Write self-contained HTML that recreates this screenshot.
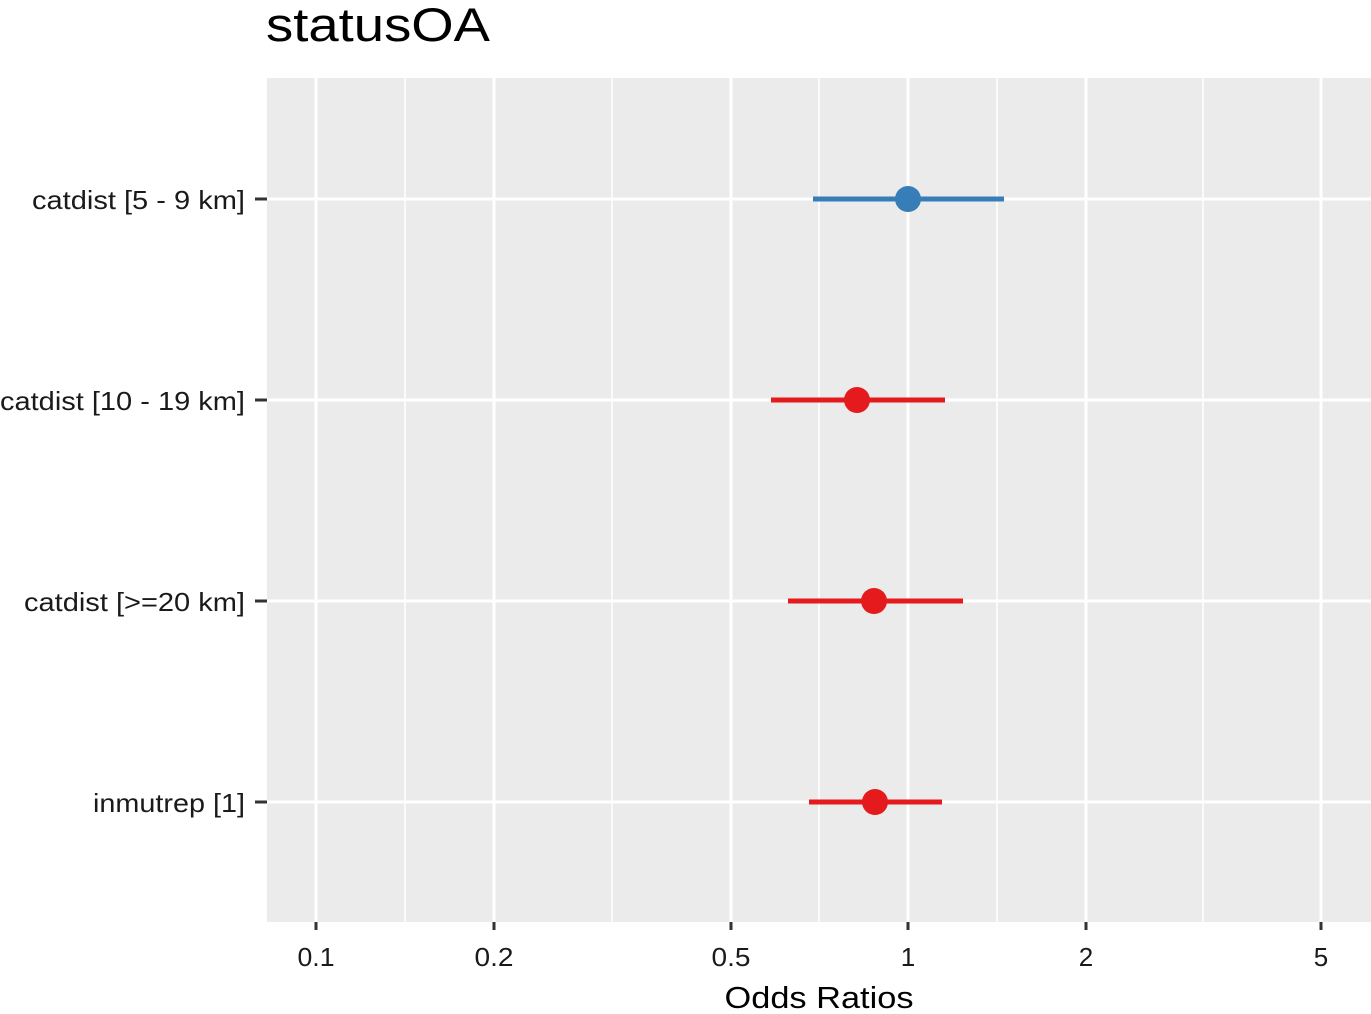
<!DOCTYPE html>
<html><head><meta charset="utf-8"><style>body{margin:0;background:#fff}</style></head><body>
<svg width="1371" height="1009" xmlns="http://www.w3.org/2000/svg" font-family="Liberation Sans, sans-serif">
<rect x="0" y="0" width="1371" height="1009" fill="#fff"/>
<rect x="267" y="78" width="1104" height="844" fill="#EBEBEB"/>
<g stroke="#fff" stroke-width="1.5">
<line x1="405" y1="78" x2="405" y2="922"/><line x1="612" y1="78" x2="612" y2="922"/><line x1="819" y1="78" x2="819" y2="922"/><line x1="997" y1="78" x2="997" y2="922"/><line x1="1203" y1="78" x2="1203" y2="922"/>
</g>
<g stroke="#fff" stroke-width="3">
<line x1="316" y1="78" x2="316" y2="922"/><line x1="494" y1="78" x2="494" y2="922"/><line x1="731" y1="78" x2="731" y2="922"/><line x1="908" y1="78" x2="908" y2="922"/><line x1="1086" y1="78" x2="1086" y2="922"/><line x1="1321" y1="78" x2="1321" y2="922"/>
<line x1="267" y1="199" x2="1371" y2="199"/><line x1="267" y1="400" x2="1371" y2="400"/><line x1="267" y1="601" x2="1371" y2="601"/><line x1="267" y1="802" x2="1371" y2="802"/>
</g>
<g stroke-width="5">
<line x1="813" y1="199" x2="1004" y2="199" stroke="#377EB8"/>
<line x1="771" y1="400" x2="945" y2="400" stroke="#E41A1C"/>
<line x1="788" y1="601" x2="963" y2="601" stroke="#E41A1C"/>
<line x1="809" y1="802" x2="942" y2="802" stroke="#E41A1C"/>
</g>
<circle cx="908" cy="199" r="13" fill="#377EB8"/>
<circle cx="857" cy="400" r="13" fill="#E41A1C"/>
<circle cx="874" cy="601" r="13" fill="#E41A1C"/>
<circle cx="875" cy="802" r="13" fill="#E41A1C"/>
<g stroke="#333" stroke-width="3">
<line x1="255" y1="199" x2="267" y2="199"/><line x1="255" y1="400" x2="267" y2="400"/><line x1="255" y1="601" x2="267" y2="601"/><line x1="255" y1="802" x2="267" y2="802"/>
<line x1="316" y1="922" x2="316" y2="930"/><line x1="494" y1="922" x2="494" y2="930"/><line x1="731" y1="922" x2="731" y2="930"/><line x1="908" y1="922" x2="908" y2="930"/><line x1="1086" y1="922" x2="1086" y2="930"/><line x1="1321" y1="922" x2="1321" y2="930"/>
</g>
<g font-size="26" fill="#1a1a1a" text-anchor="end">
<text x="245" y="209" textLength="213" lengthAdjust="spacingAndGlyphs">catdist [5 - 9 km]</text>
<text x="245" y="410" textLength="245" lengthAdjust="spacingAndGlyphs">catdist [10 - 19 km]</text>
<text x="245" y="611" textLength="221" lengthAdjust="spacingAndGlyphs">catdist [&gt;=20 km]</text>
<text x="245" y="812" textLength="152" lengthAdjust="spacingAndGlyphs">inmutrep [1]</text>
</g>
<g font-size="26" fill="#1a1a1a" text-anchor="middle">
<text x="316" y="966" textLength="37" lengthAdjust="spacingAndGlyphs">0.1</text><text x="494" y="966" textLength="39" lengthAdjust="spacingAndGlyphs">0.2</text><text x="731" y="966" textLength="39" lengthAdjust="spacingAndGlyphs">0.5</text><text x="908" y="966">1</text><text x="1086" y="966">2</text><text x="1321" y="966">5</text>
</g>
<text x="819" y="1008" font-size="31" text-anchor="middle" fill="#000" textLength="189" lengthAdjust="spacingAndGlyphs">Odds Ratios</text>
<text x="266" y="41" font-size="47" fill="#000" textLength="224" lengthAdjust="spacingAndGlyphs">statusOA</text>
</svg>
</body></html>
